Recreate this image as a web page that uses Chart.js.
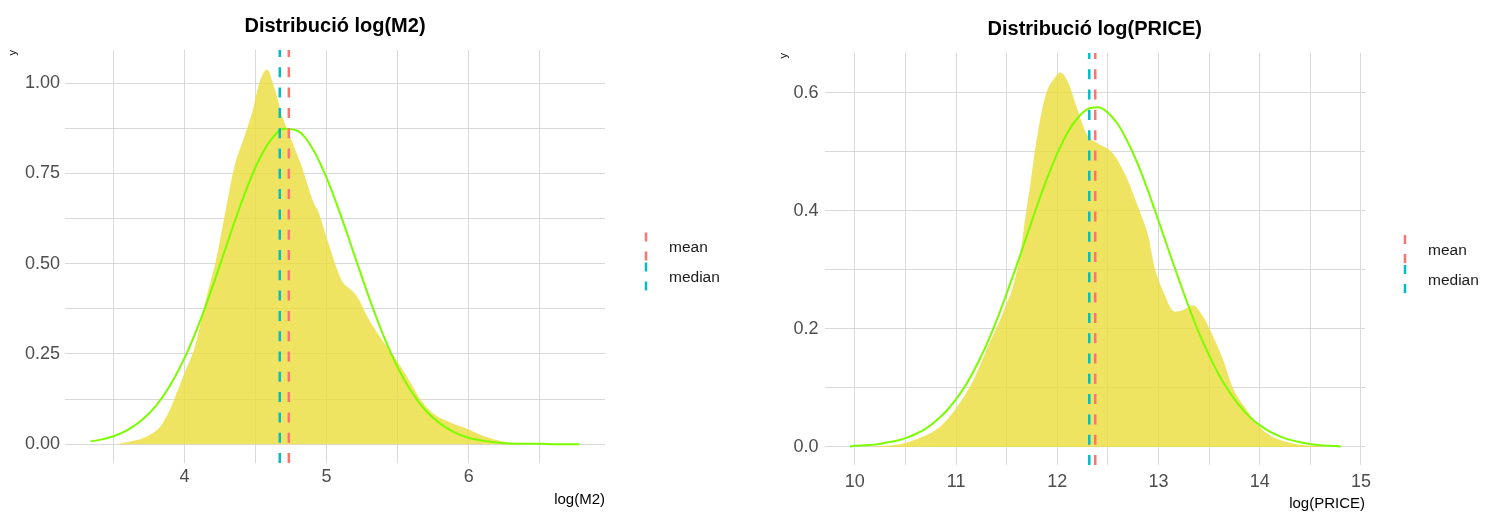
<!DOCTYPE html>
<html>
<head>
<meta charset="utf-8">
<script src="https://cdn.jsdelivr.net/npm/chart.js@4/dist/chart.umd.min.js"></script>
<style>
  html, body { margin: 0; padding: 0; background: #ffffff; }
  #wrap { position: relative; width: 1499px; height: 513px; overflow: hidden; }
  canvas { position: absolute; top: 0; }
  #m2Chart { left: 0; }
  #priceChart { left: 750px; }
</style>
</head>
<body>
<div id="wrap">
  <canvas id="m2Chart" width="750" height="513"></canvas>
  <canvas id="priceChart" width="749" height="513"></canvas>
</div>
<script>
const FONT = "'Liberation Sans', Arial, Helvetica, sans-serif";

// Reference lines shown in both panels
const statLabels = ['mean', 'median'];
const statColors = ['#F8766D', '#00BFC4'];

// ---- log(M2) ----
const m2DensityX = [3.52, 3.60, 3.70, 3.76, 3.82, 3.88, 3.94, 4.00, 4.07, 4.16, 4.22, 4.28, 4.35, 4.42, 4.48, 4.525, 4.58, 4.63, 4.69, 4.75, 4.82, 4.91, 4.94, 5.01, 5.09, 5.12, 5.16, 5.22, 5.29, 5.38, 5.48, 5.57, 5.67, 5.76, 5.88, 6.00, 6.11, 6.23, 6.32, 6.42];
const m2DensityY = [0.000, 0.006, 0.016, 0.027, 0.045, 0.082, 0.138, 0.198, 0.267, 0.416, 0.508, 0.629, 0.768, 0.851, 0.925, 0.999, 1.038, 0.990, 0.906, 0.845, 0.774, 0.668, 0.645, 0.560, 0.468, 0.445, 0.432, 0.406, 0.351, 0.295, 0.240, 0.184, 0.119, 0.082, 0.059, 0.041, 0.022, 0.008, 0.002, 0.000];
const m2NormalX = [3.34, 3.4, 3.5, 3.6, 3.7, 3.8, 3.9, 4.0, 4.1, 4.2, 4.3, 4.4, 4.5, 4.6, 4.7, 4.8, 4.9, 5.0, 5.1, 5.2, 5.3, 5.4, 5.5, 5.6, 5.7, 5.8, 5.9, 6.0, 6.1, 6.2, 6.3, 6.4, 6.5, 6.6, 6.7, 6.78];
const m2NormalY = [0.008, 0.012, 0.022, 0.040, 0.067, 0.107, 0.164, 0.239, 0.332, 0.440, 0.556, 0.669, 0.768, 0.839, 0.874, 0.867, 0.820, 0.738, 0.634, 0.519, 0.405, 0.301, 0.213, 0.144, 0.092, 0.057, 0.033, 0.018, 0.010, 0.005, 0.002, 0.001, 0.001, 0.000, 0.000, 0.000];
const m2Stats = [4.734, 4.670];          // mean, median
const m2XTickLabels = [4, 5, 6];
const m2YTickLabels = [0, 0.25, 0.5, 0.75, 1.0];

// ---- log(PRICE) ----
const priceDensityX = [10.10, 10.30, 10.48, 10.68, 10.84, 10.99, 11.17, 11.33, 11.42, 11.48, 11.56, 11.63, 11.68, 11.73, 11.78, 11.83, 11.89, 11.97, 12.03, 12.11, 12.19, 12.29, 12.40, 12.55, 12.68, 12.81, 12.90, 12.96, 13.04, 13.16, 13.24, 13.34, 13.44, 13.54, 13.64, 13.73, 13.87, 14.00, 14.13, 14.33, 14.53, 14.65];
const priceDensityY = [0.000, 0.002, 0.006, 0.018, 0.034, 0.063, 0.113, 0.176, 0.209, 0.235, 0.271, 0.322, 0.384, 0.441, 0.503, 0.554, 0.599, 0.624, 0.634, 0.616, 0.576, 0.530, 0.514, 0.497, 0.458, 0.401, 0.356, 0.305, 0.266, 0.229, 0.232, 0.240, 0.221, 0.187, 0.147, 0.102, 0.063, 0.034, 0.017, 0.006, 0.002, 0.000];
const priceNormalX = [9.95, 10.0, 10.1, 10.2, 10.3, 10.4, 10.5, 10.6, 10.7, 10.8, 10.9, 11.0, 11.1, 11.2, 11.3, 11.4, 11.5, 11.6, 11.7, 11.8, 11.9, 12.0, 12.1, 12.2, 12.3, 12.4, 12.5, 12.6, 12.7, 12.8, 12.9, 13.0, 13.1, 13.2, 13.3, 13.4, 13.5, 13.6, 13.7, 13.8, 13.9, 14.0, 14.1, 14.2, 14.3, 14.4, 14.5, 14.6, 14.7, 14.8];
const priceNormalY = [0.001, 0.002, 0.003, 0.004, 0.007, 0.010, 0.015, 0.022, 0.031, 0.044, 0.060, 0.081, 0.106, 0.137, 0.173, 0.214, 0.260, 0.308, 0.358, 0.408, 0.455, 0.497, 0.532, 0.557, 0.572, 0.575, 0.566, 0.546, 0.515, 0.477, 0.432, 0.383, 0.333, 0.284, 0.237, 0.193, 0.155, 0.121, 0.093, 0.070, 0.051, 0.037, 0.026, 0.018, 0.012, 0.008, 0.005, 0.003, 0.002, 0.001];
const priceStats = [12.375, 12.316];     // mean, median
const priceXTickLabels = [10, 11, 12, 13, 14, 15];
const priceYTickLabels = [0, 0.2, 0.4, 0.6];

const toPoints = (xs, ys) => xs.map((x, i) => ({ x: x, y: ys[i] }));
const isLabelled = (v, list) => list.some(t => Math.abs(t - v) < 1e-6);

// Legend with vertical dashed keys, drawn to the right of the plot area
const statKeyLegend = {
  id: 'statKeyLegend',
  afterDraw(chart, args, opts) {
    const { ctx, chartArea } = chart;
    const keyH = 30;
    const mid = (chartArea.top + chartArea.bottom) / 2 + opts.shift;
    const x = chartArea.right + opts.keyOffset;
    const top0 = mid - keyH * opts.labels.length / 2;
    ctx.save();
    opts.labels.forEach((label, i) => {
      const top = top0 + i * keyH;
      ctx.beginPath();
      ctx.setLineDash([9, 10]);
      ctx.lineWidth = 2.5;
      ctx.lineCap = 'butt';
      ctx.strokeStyle = opts.colors[i];
      ctx.moveTo(x, top);
      ctx.lineTo(x, top + keyH);
      ctx.stroke();
      ctx.setLineDash([]);
      ctx.fillStyle = '#1a1a1a';
      ctx.font = '15.5px ' + FONT;
      ctx.textAlign = 'left';
      ctx.textBaseline = 'middle';
      ctx.fillText(label, x + opts.textGap, top + keyH / 2 + 0.5);
    });
    ctx.restore();
  }
};

function buildChart(canvasId, cfg) {
  const statLine = (i, order) => ({
    label: statLabels[i],
    data: [{ x: cfg.stats[i], y: cfg.yMin }, { x: cfg.stats[i], y: cfg.yMax }],
    borderColor: statColors[i],
    borderWidth: 2.5,
    borderDash: [10, 10.3],
    borderCapStyle: 'butt',
    pointRadius: 0,
    fill: false,
    order: order
  });

  return new Chart(document.getElementById(canvasId), {
    type: 'line',
    data: {
      datasets: [
        {
          label: 'density',
          data: toPoints(cfg.densX, cfg.densY),
          backgroundColor: 'rgba(236, 222, 64, 0.82)',
          borderWidth: 0,
          pointRadius: 0,
          fill: 'origin',
          cubicInterpolationMode: 'monotone',
          order: 4
        },
        {
          label: 'normal',
          data: toPoints(cfg.normX, cfg.normY),
          borderColor: '#7CFC00',
          borderWidth: 2,
          pointRadius: 0,
          fill: false,
          cubicInterpolationMode: 'monotone',
          order: 3
        },
        statLine(1, 2),
        statLine(0, 1)
      ]
    },
    options: {
      responsive: false,
      animation: false,
      events: [],
      layout: { padding: { left: 0, top: 0, right: cfg.rightPad, bottom: 0 } },
      plugins: {
        legend: { display: false },
        tooltip: { enabled: false },
        title: {
          display: true,
          text: cfg.title,
          fullSize: false,
          color: '#000000',
          font: { family: FONT, size: 20, weight: 'bold', lineHeight: 1.2 },
          padding: { top: cfg.titleTop, bottom: cfg.titleBottom }
        },
        statKeyLegend: {
          labels: statLabels,
          colors: statColors,
          shift: 6,
          keyOffset: cfg.keyOffset,
          textGap: 23
        }
      },
      scales: {
        x: {
          type: 'linear',
          min: cfg.xMin,
          max: cfg.xMax,
          border: { display: false },
          grid: { color: '#d9d9d9', lineWidth: 1, drawTicks: false },
          ticks: {
            stepSize: 0.5,
            includeBounds: false,
            autoSkip: false,
            maxRotation: 0,
            padding: cfg.xTickPad,
            color: '#4d4d4d',
            font: { family: FONT, size: 18 },
            callback: v => isLabelled(v, cfg.xLabels) ? String(Math.round(v)) : ''
          },
          title: {
            display: true,
            text: cfg.xTitle,
            align: 'end',
            color: '#000000',
            font: { family: FONT, size: 15, lineHeight: 1.2 },
            padding: { top: 0, bottom: cfg.xTitleBottom }
          },
          afterFit: s => { s.height = cfg.xAxisH; }
        },
        y: {
          type: 'linear',
          min: cfg.yMin,
          max: cfg.yMax,
          border: { display: false },
          grid: { color: '#d9d9d9', lineWidth: 1, drawTicks: false },
          ticks: {
            stepSize: cfg.yStep,
            includeBounds: false,
            autoSkip: false,
            padding: cfg.yTickPad,
            color: '#4d4d4d',
            font: { family: FONT, size: 18 },
            callback: v => isLabelled(v, cfg.yLabels) ? v.toFixed(cfg.yDigits) : ''
          },
          title: {
            display: true,
            text: 'y',
            align: 'end',
            color: '#000000',
            font: { family: FONT, size: 11, lineHeight: 1.2 },
            padding: { top: cfg.yTitleTop, bottom: 0 }
          },
          afterFit: s => { s.width = cfg.yAxisW; }
        }
      }
    },
    plugins: [statKeyLegend]
  });
}

buildChart('m2Chart', {
  title: 'Distribució log(M2)',
  xTitle: 'log(M2)',
  densX: m2DensityX, densY: m2DensityY,
  normX: m2NormalX, normY: m2NormalY,
  stats: m2Stats,
  xMin: 3.158, xMax: 6.96,
  yMin: -0.052, yMax: 1.092, yStep: 0.125, yDigits: 2,
  xLabels: m2XTickLabels, yLabels: m2YTickLabels,
  rightPad: 145, titleTop: 14.5, titleBottom: 11.5,
  xAxisH: 50, yAxisW: 65, xTickPad: 3.3, yTickPad: 5,
  xTitleBottom: 4, yTitleTop: 6.4, keyOffset: 41
});

buildChart('priceChart', {
  title: 'Distribució log(PRICE)',
  xTitle: 'log(PRICE)',
  densX: priceDensityX, densY: priceDensityY,
  normX: priceNormalX, normY: priceNormalY,
  stats: priceStats,
  xMin: 9.70, xMax: 15.04,
  yMin: -0.0305, yMax: 0.667, yStep: 0.1, yDigits: 1,
  xLabels: priceXTickLabels, yLabels: priceYTickLabels,
  rightPad: 134, titleTop: 17.5, titleBottom: 11.5,
  xAxisH: 48, yAxisW: 74.5, xTickPad: 5.8, yTickPad: 6,
  xTitleBottom: 0, yTitleTop: 27.4, keyOffset: 40
});
</script>
</body>
</html>
